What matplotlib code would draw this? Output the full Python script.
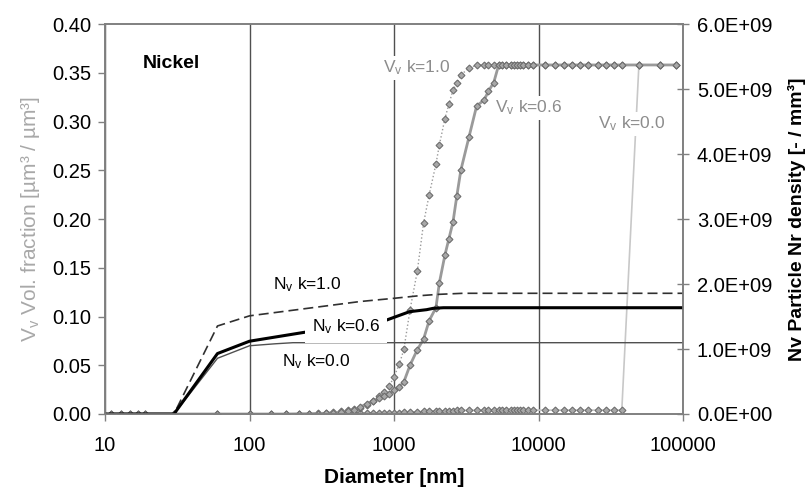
import numpy as np
import matplotlib
matplotlib.use("Agg")
import matplotlib.pyplot as plt
from matplotlib.ticker import FuncFormatter, NullLocator

plt.rcParams['font.family'] = ['Liberation Sans', 'DejaVu Sans']
plt.rcParams['mathtext.fontset'] = 'custom'
plt.rcParams['mathtext.rm'] = 'Liberation Sans'
plt.rcParams['mathtext.it'] = 'Liberation Sans:italic'
plt.rcParams['mathtext.bf'] = 'Liberation Sans:bold'

# diameters of the V_v points [nm]
diam = [11, 13, 15, 17, 19, 30, 60, 100, 140, 180, 220, 260, 300, 340, 380,
        430, 480, 530, 580, 650, 720, 790, 850, 930, 1000, 1090, 1170, 1290,
        1450, 1600, 1750, 1950, 2060, 2250, 2400, 2560, 2720, 2900, 3300,
        3730, 4200, 4500, 4900, 5300, 5600, 6000, 6400, 6800, 7100, 7500,
        7800, 8500, 9100, 11000, 13000, 15000, 17000, 19500, 22000, 25600,
        29200, 33200, 37700, 49500, 69000, 90000]

# volume fraction V_v
vv_k10 = [0, 0, 0, 0, 0, 0, 0, 0, 0, 0, 0.0003, 0.0005, 0.0008, 0.0012, 0.0018,
          0.0026, 0.0036, 0.0048, 0.0065, 0.0095, 0.0135, 0.018, 0.0225, 0.029,
          0.0383, 0.0513, 0.0664, 0.1067, 0.1467, 0.1956, 0.2246, 0.2564,
          0.276, 0.303, 0.318, 0.3323, 0.339, 0.348, 0.3545,
          0.358, 0.358, 0.358, 0.358, 0.358, 0.358, 0.358, 0.358, 0.358,
          0.358, 0.358, 0.358, 0.358, 0.358, 0.358, 0.358, 0.358, 0.358,
          0.358, 0.358, 0.358, 0.358, 0.358, 0.358, 0.358, 0.358, 0.358]
vv_k06 = [0, 0, 0, 0, 0, 0, 0, 0, 0, 0, 0.0002, 0.0003, 0.0005, 0.0008, 0.0012,
          0.0018, 0.0027, 0.0038, 0.0070, 0.0105, 0.0135, 0.016, 0.0188, 0.021,
          0.0246, 0.028, 0.033, 0.050, 0.066, 0.0766, 0.0957, 0.109,
          0.1347, 0.163, 0.180, 0.197, 0.2236, 0.250, 0.284,
          0.316, 0.322, 0.331, 0.340, 0.358, 0.358, 0.358, 0.358, 0.358,
          0.358, 0.358, 0.358, 0.358, 0.358, 0.358, 0.358, 0.358, 0.358,
          0.358, 0.358, 0.358, 0.358, 0.358, 0.358, 0.358, 0.358, 0.358]
vv_k00 = [0, 0, 0, 0, 0, 0, 0, 0, 0, 0, 0, 0, 0.0001, 0.0002, 0.0003,
          0.0004, 0.0005, 0.0006, 0.0007, 0.0008, 0.0009, 0.001, 0.0011, 0.0012,
          0.0013, 0.0015, 0.0017, 0.002, 0.0023, 0.0026, 0.0028, 0.003,
          0.0031, 0.0033, 0.0034, 0.0035, 0.0036, 0.0037, 0.0038,
          0.0038, 0.0038, 0.0039, 0.0039, 0.0039, 0.0039, 0.0039, 0.004, 0.004,
          0.004, 0.004, 0.004, 0.004, 0.004, 0.004, 0.004, 0.004, 0.004,
          0.004, 0.004, 0.004, 0.004, 0.004, 0.004, 0.358, 0.358, 0.358]

# particle number density N_v [1/mm^3]
nv_k10_d = [10, 30, 60, 100, 580, 1000, 1500, 2000, 3000, 100000]
nv_k10 = [0, 0, 1.354e9, 1.51e9, 1.73e9, 1.78e9, 1.82e9, 1.84e9, 1.857e9, 1.857e9]
nv_k06_d = [10, 30, 60, 100, 240, 500, 890, 1280, 1680, 1870, 2200, 100000]
nv_k06 = [0, 0, 0.93e9, 1.12e9, 1.257e9, 1.35e9, 1.446e9, 1.574e9, 1.605e9,
          1.626e9, 1.635e9, 1.635e9]
nv_k00_d = [10, 30, 60, 100, 150, 200, 100000]
nv_k00 = [0, 0, 0.857e9, 1.05e9, 1.08e9, 1.097e9, 1.097e9]

fig = plt.figure(figsize=(8.11, 4.87), dpi=100)
ax = fig.add_axes([0.1295, 0.1499, 0.7127, 0.8008])
ax2 = ax.twinx()

mk = dict(marker='D', markersize=3.5, markerfacecolor='#a8a8a8',
          markeredgecolor='#6e6e6e', markeredgewidth=0.8)
ax.plot(diam, vv_k00, color='#c8c8c8', lw=1.2, **mk)
ax.plot(diam, vv_k10, color='#9a9a9a', lw=1.0, ls=':', **mk)
ax.plot(diam, vv_k06, color='#9a9a9a', lw=2.0, **mk)

ax2.plot(nv_k00_d, nv_k00, color='#505050', lw=1.0)
ax2.plot(nv_k10_d, nv_k10, color='#303030', lw=1.2, ls=(0, (6, 3)))
ax2.plot(nv_k06_d, nv_k06, color='black', lw=2.2)

ax.set_xscale('log')
ax.set_xlim(10, 1e5)
ax.set_ylim(0, 0.4)
ax2.set_ylim(0, 6e9)
ax.set_xticks([10, 100, 1000, 10000, 100000])
ax.set_xticklabels(['10', '100', '1000', '10000', '100000'])
ax.xaxis.set_minor_locator(NullLocator())
ax.set_yticks(np.arange(0, 0.41, 0.05))
ax.yaxis.set_major_formatter(FuncFormatter(lambda v, p: '%.2f' % v))
ax2.set_yticks(np.arange(0, 6.1e9, 1e9))
ax2.yaxis.set_major_formatter(FuncFormatter(lambda v, p: '%.1E' % v))

ax.grid(True, axis='x', which='major', color='#505050', lw=1.0)
ax.tick_params(axis='y', direction='out', length=5, width=1, color='#808080',
               labelsize=14.5, pad=5)
ax.tick_params(axis='x', direction='out', length=5, width=1, color='#808080',
               labelsize=14.5, pad=11)
ax2.tick_params(axis='y', direction='inout', length=8, width=1, color='#808080',
                labelsize=14.5, pad=6)
for a in (ax, ax2):
    for s in a.spines.values():
        s.set_color('#808080')
        s.set_linewidth(1.2)

ax.set_xlabel('Diameter [nm]', fontsize=15, fontweight='bold', labelpad=9)
ax.set_ylabel('V$_\\mathrm{v}$ Vol. fraction [µm³ / µm³]', fontsize=15,
              color='#a8a8a8', labelpad=7)
ax2.set_ylabel('Nv Particle Nr density [- / mm³]', fontsize=14,
               fontweight='bold', labelpad=11)

# curve labels, drawn on top so their white box hides lines behind them
box = dict(facecolor='white', edgecolor='none', pad=2)
t = ax.transData
ax2.text(18.3, 0.36, 'Nickel', transform=t, fontsize=14, fontweight='bold',
         ha='left', va='center')
ax2.text(1432, 0.355, 'V$_\\mathrm{v}$ k=1.0', transform=t, fontsize=12.5,
         color='#8c8c8c', ha='center', va='center', bbox=box)
ax2.text(8530, 0.314, 'V$_\\mathrm{v}$ k=0.6', transform=t, fontsize=12.5,
         color='#8c8c8c', ha='center', va='center', bbox=box)
ax2.text(44400, 0.2974, 'V$_\\mathrm{v}$ k=0.0', transform=t, fontsize=12.5,
         color='#8c8c8c', ha='center', va='center', bbox=box)
ax2.text(252, 0.1323, 'N$_\\mathrm{v}$ k=1.0', transform=t, fontsize=12.5,
         ha='center', va='center', bbox=box)
ax2.text(466, 0.0895, 'N$_\\mathrm{v}$ k=0.6', transform=t, fontsize=12.5,
         ha='center', va='center', bbox=dict(facecolor='white', edgecolor='none', pad=5))
ax2.text(288, 0.0536, 'N$_\\mathrm{v}$ k=0.0', transform=t, fontsize=12.5,
         ha='center', va='center', bbox=box)

fig.savefig('out.png', dpi=100)
